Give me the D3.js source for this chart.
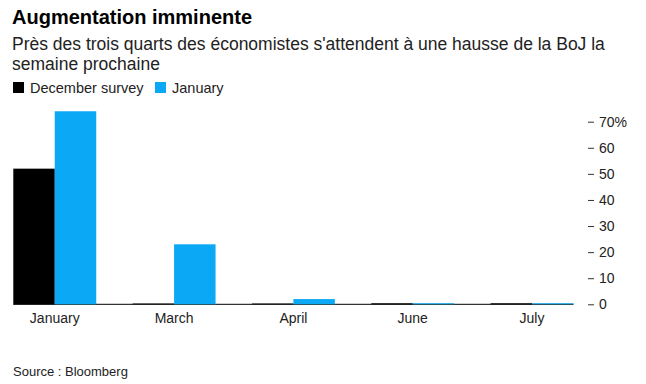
<!DOCTYPE html>
<html><head><meta charset="utf-8">
<script src="https://cdn.jsdelivr.net/npm/d3@7"></script>
<style>
body{margin:0;background:#fff;}
text{font-family:"Liberation Sans",Arial,sans-serif;}
</style></head>
<body><svg id="c" width="646" height="384"></svg>
<script>
const categories = ["January","March","April","June","July"];
const seriesNames = ["December survey","January"];
const decemberSurvey = [52, 0.3, 0.3, 0.4, 0.4];
const january = [74, 23, 2, 0.4, 0.4];
const yTicks = [0,10,20,30,40,50,60,70];
const colors = ["#000000","#0aa8f5"];

const svg = d3.select("#c");
const x0 = d3.scaleBand().domain(categories).range([13.3, 573.5]).paddingInner(0.305).paddingOuter(0);
const x1 = d3.scaleBand().domain(seriesNames).range([0, x0.bandwidth()]);
const y = d3.scaleLinear().domain([0,70]).range([304.3,121.7]);

// title
svg.append("text").attr("x",12).attr("y",24).attr("font-size",20).attr("font-weight","bold").attr("fill","#000").text("Augmentation imminente");
svg.append("text").attr("x",12).attr("y",50).attr("font-size",17.5).attr("fill","#222").text("Près des trois quarts des économistes s'attendent à une hausse de la BoJ la");
svg.append("text").attr("x",12).attr("y",70).attr("font-size",17.5).attr("fill","#222").text("semaine prochaine");

// legend
const leg = svg.append("g");
const legX = [13,155];
seriesNames.forEach((s,i)=>{
  leg.append("rect").attr("x",legX[i]).attr("y",82).attr("width",11).attr("height",11).attr("fill",colors[i]);
  leg.append("text").attr("x",legX[i]+17).attr("y",92.5).attr("font-size",14.5).attr("fill","#222").text(s);
});

// baseline
svg.append("line").attr("x1",x0.range()[0]).attr("x2",x0.range()[1]).attr("y1",y(0)).attr("y2",y(0)).attr("stroke","#000").attr("stroke-width",1);

// bars
const data = [decemberSurvey, january];
categories.forEach((c,ci)=>{
  data.forEach((arr,si)=>{
    const v = arr[ci];
    svg.append("rect")
      .attr("x", x0(c)+x1(seriesNames[si]))
      .attr("width", x1.bandwidth())
      .attr("y", y(v))
      .attr("height", y(0)-y(v))
      .attr("fill", colors[si]);
  });
});

// x labels
svg.append("g").selectAll("text").data(categories).join("text")
  .attr("x",d=>x0(d)+x0.bandwidth()/2).attr("y",323).attr("text-anchor","middle")
  .attr("font-size",14).attr("fill","#222").text(d=>d);

// y axis
const yAxis = d3.axisRight(y).tickValues(yTicks).tickSize(6).tickPadding(5)
  .tickFormat(d=>d===70? d+"%" : d);
const ga = svg.append("g").attr("transform","translate(588,0)").call(yAxis);
ga.select(".domain").remove();
ga.selectAll("line").attr("stroke","#333");
ga.selectAll("text").attr("font-size",14).attr("fill","#222").attr("font-family","Liberation Sans, Arial, sans-serif");

// source
svg.append("text").attr("x",13).attr("y",376).attr("font-size",13).attr("fill","#222").text("Source : Bloomberg");
</script></body></html>
